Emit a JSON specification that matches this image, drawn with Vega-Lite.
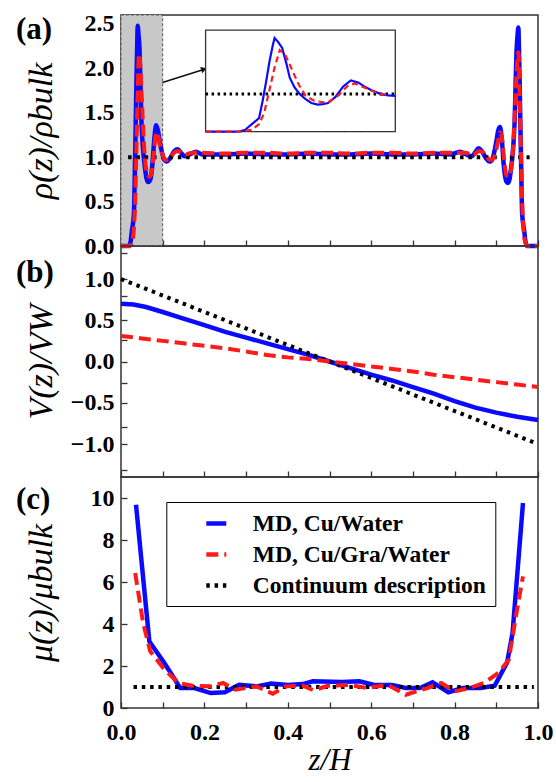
{
  "$schema": "https://vega.github.io/schema/vega-lite/v6.json",
  "background": "white",
  "padding": {"left": 15, "top": 11, "right": 2, "bottom": 0},
  "autosize": {"type": "pad"},
  "spacing": 0,
  "bounds": "flush",
  "datasets": {
    "rho": [
      {"z":0,"v":0,"s":"cu"},{"z":0.019,"v":0,"s":"cu"},{"z":0.023,"v":0.05,"s":"cu"},{"z":0.026,"v":0.17,"s":"cu"},{"z":0.031,"v":0.36,"s":"cu"},{"z":0.033,"v":0.8,"s":"cu"},{"z":0.035,"v":1.3,"s":"cu"},{"z":0.037,"v":1.85,"s":"cu"},{"z":0.039,"v":2.3,"s":"cu"},{"z":0.040,"v":2.48,"s":"cu"},{"z":0.042,"v":2.38,"s":"cu"},{"z":0.0444,"v":2.22,"s":"cu"},{"z":0.0466,"v":1.85,"s":"cu"},{"z":0.0488,"v":1.43,"s":"cu"},{"z":0.0515,"v":1.18,"s":"cu"},{"z":0.0545,"v":1.0,"s":"cu"},{"z":0.058,"v":0.86,"s":"cu"},{"z":0.0613,"v":0.76,"s":"cu"},{"z":0.065,"v":0.72,"s":"cu"},{"z":0.068,"v":0.73,"s":"cu"},{"z":0.071,"v":0.76,"s":"cu"},{"z":0.0753,"v":0.92,"s":"cu"},{"z":0.0798,"v":1.2,"s":"cu"},{"z":0.0842,"v":1.36,"s":"cu"},{"z":0.0885,"v":1.3,"s":"cu"},{"z":0.092,"v":1.2,"s":"cu"},{"z":0.0962,"v":1.1,"s":"cu"},{"z":0.102,"v":0.99,"s":"cu"},{"z":0.106,"v":0.96,"s":"cu"},{"z":0.11,"v":0.95,"s":"cu"},{"z":0.118,"v":0.99,"s":"cu"},{"z":0.128,"v":1.07,"s":"cu"},{"z":0.136,"v":1.09,"s":"cu"},{"z":0.144,"v":1.05,"s":"cu"},{"z":0.152,"v":1.01,"s":"cu"},{"z":0.165,"v":1.03,"s":"cu"},{"z":0.18,"v":1.06,"s":"cu"},{"z":0.195,"v":1.03,"s":"cu"},{"z":0.25,"v":1.03,"s":"cu"},{"z":0.3,"v":1.04,"s":"cu"},{"z":0.35,"v":1.03,"s":"cu"},{"z":0.4,"v":1.03,"s":"cu"},{"z":0.45,"v":1.04,"s":"cu"},{"z":0.5,"v":1.03,"s":"cu"},{"z":0.55,"v":1.03,"s":"cu"},{"z":0.6,"v":1.04,"s":"cu"},{"z":0.65,"v":1.03,"s":"cu"},{"z":0.7,"v":1.03,"s":"cu"},{"z":0.75,"v":1.04,"s":"cu"},{"z":0.79,"v":1.03,"s":"cu"},{"z":0.813,"v":1.06,"s":"cu"},{"z":0.828,"v":1.03,"s":"cu"},{"z":0.841,"v":1.01,"s":"cu"},{"z":0.849,"v":1.05,"s":"cu"},{"z":0.857,"v":1.1,"s":"cu"},{"z":0.865,"v":1.07,"s":"cu"},{"z":0.875,"v":0.99,"s":"cu"},{"z":0.883,"v":0.95,"s":"cu"},{"z":0.887,"v":0.955,"s":"cu"},{"z":0.891,"v":0.98,"s":"cu"},{"z":0.897,"v":1.1,"s":"cu"},{"z":0.901,"v":1.2,"s":"cu"},{"z":0.9045,"v":1.3,"s":"cu"},{"z":0.909,"v":1.34,"s":"cu"},{"z":0.9132,"v":1.2,"s":"cu"},{"z":0.9177,"v":0.92,"s":"cu"},{"z":0.922,"v":0.76,"s":"cu"},{"z":0.925,"v":0.72,"s":"cu"},{"z":0.928,"v":0.71,"s":"cu"},{"z":0.9317,"v":0.75,"s":"cu"},{"z":0.935,"v":0.86,"s":"cu"},{"z":0.9385,"v":1.0,"s":"cu"},{"z":0.9415,"v":1.18,"s":"cu"},{"z":0.9442,"v":1.43,"s":"cu"},{"z":0.9464,"v":1.85,"s":"cu"},{"z":0.9486,"v":2.2,"s":"cu"},{"z":0.951,"v":2.38,"s":"cu"},{"z":0.953,"v":2.46,"s":"cu"},{"z":0.954,"v":2.3,"s":"cu"},{"z":0.956,"v":1.85,"s":"cu"},{"z":0.958,"v":1.3,"s":"cu"},{"z":0.960,"v":0.8,"s":"cu"},{"z":0.962,"v":0.36,"s":"cu"},{"z":0.967,"v":0.17,"s":"cu"},{"z":0.970,"v":0.05,"s":"cu"},{"z":0.974,"v":0,"s":"cu"},{"z":1.0,"v":0,"s":"cu"},
      {"z":0,"v":0,"s":"gra"},{"z":0.02,"v":0,"s":"gra"},{"z":0.027,"v":0.05,"s":"gra"},{"z":0.031,"v":0.2,"s":"gra"},{"z":0.034,"v":0.5,"s":"gra"},{"z":0.037,"v":1.1,"s":"gra"},{"z":0.040,"v":1.7,"s":"gra"},{"z":0.043,"v":2.16,"s":"gra"},{"z":0.046,"v":2.05,"s":"gra"},{"z":0.048,"v":1.86,"s":"gra"},{"z":0.051,"v":1.55,"s":"gra"},{"z":0.054,"v":1.25,"s":"gra"},{"z":0.058,"v":0.95,"s":"gra"},{"z":0.063,"v":0.82,"s":"gra"},{"z":0.068,"v":0.78,"s":"gra"},{"z":0.072,"v":0.8,"s":"gra"},{"z":0.077,"v":0.96,"s":"gra"},{"z":0.082,"v":1.2,"s":"gra"},{"z":0.0865,"v":1.28,"s":"gra"},{"z":0.092,"v":1.17,"s":"gra"},{"z":0.1,"v":1.02,"s":"gra"},{"z":0.106,"v":0.97,"s":"gra"},{"z":0.112,"v":0.97,"s":"gra"},{"z":0.12,"v":1.01,"s":"gra"},{"z":0.13,"v":1.06,"s":"gra"},{"z":0.138,"v":1.07,"s":"gra"},{"z":0.146,"v":1.04,"s":"gra"},{"z":0.155,"v":1.03,"s":"gra"},{"z":0.17,"v":1.05,"s":"gra"},{"z":0.19,"v":1.05,"s":"gra"},{"z":0.25,"v":1.04,"s":"gra"},{"z":0.3,"v":1.05,"s":"gra"},{"z":0.35,"v":1.05,"s":"gra"},{"z":0.4,"v":1.04,"s":"gra"},{"z":0.45,"v":1.05,"s":"gra"},{"z":0.5,"v":1.05,"s":"gra"},{"z":0.55,"v":1.04,"s":"gra"},{"z":0.6,"v":1.05,"s":"gra"},{"z":0.65,"v":1.05,"s":"gra"},{"z":0.7,"v":1.04,"s":"gra"},{"z":0.75,"v":1.05,"s":"gra"},{"z":0.79,"v":1.05,"s":"gra"},{"z":0.806,"v":1.05,"s":"gra"},{"z":0.826,"v":1.05,"s":"gra"},{"z":0.841,"v":1.03,"s":"gra"},{"z":0.85,"v":1.04,"s":"gra"},{"z":0.858,"v":1.07,"s":"gra"},{"z":0.866,"v":1.06,"s":"gra"},{"z":0.876,"v":1.01,"s":"gra"},{"z":0.884,"v":0.97,"s":"gra"},{"z":0.89,"v":0.97,"s":"gra"},{"z":0.896,"v":1.02,"s":"gra"},{"z":0.904,"v":1.17,"s":"gra"},{"z":0.9095,"v":1.28,"s":"gra"},{"z":0.914,"v":1.2,"s":"gra"},{"z":0.919,"v":0.96,"s":"gra"},{"z":0.924,"v":0.8,"s":"gra"},{"z":0.928,"v":0.78,"s":"gra"},{"z":0.933,"v":0.82,"s":"gra"},{"z":0.938,"v":0.95,"s":"gra"},{"z":0.942,"v":1.25,"s":"gra"},{"z":0.945,"v":1.55,"s":"gra"},{"z":0.948,"v":1.86,"s":"gra"},{"z":0.950,"v":2.05,"s":"gra"},{"z":0.953,"v":2.18,"s":"gra"},{"z":0.956,"v":1.7,"s":"gra"},{"z":0.959,"v":1.1,"s":"gra"},{"z":0.962,"v":0.5,"s":"gra"},{"z":0.965,"v":0.2,"s":"gra"},{"z":0.969,"v":0.05,"s":"gra"},{"z":0.976,"v":0,"s":"gra"},{"z":1.0,"v":0,"s":"gra"},
      {"z":0,"v":1,"s":"cont"},{"z":0.017,"v":1,"s":"cont"},{"z":0.11,"v":1,"s":"cont"},{"z":0.98,"v":1,"s":"cont"}
    ],
    "vel": [
      {"z":0,"v":0.70,"s":"cu"},{"z":0.03,"v":0.69,"s":"cu"},{"z":0.06,"v":0.66,"s":"cu"},{"z":0.1,"v":0.60,"s":"cu"},{"z":0.15,"v":0.52,"s":"cu"},{"z":0.2,"v":0.44,"s":"cu"},{"z":0.25,"v":0.36,"s":"cu"},{"z":0.3,"v":0.29,"s":"cu"},{"z":0.35,"v":0.22,"s":"cu"},{"z":0.4,"v":0.15,"s":"cu"},{"z":0.45,"v":0.08,"s":"cu"},{"z":0.5,"v":0.0,"s":"cu"},{"z":0.55,"v":-0.08,"s":"cu"},{"z":0.6,"v":-0.16,"s":"cu"},{"z":0.65,"v":-0.23,"s":"cu"},{"z":0.7,"v":-0.31,"s":"cu"},{"z":0.75,"v":-0.39,"s":"cu"},{"z":0.8,"v":-0.48,"s":"cu"},{"z":0.85,"v":-0.56,"s":"cu"},{"z":0.9,"v":-0.62,"s":"cu"},{"z":0.95,"v":-0.67,"s":"cu"},{"z":1.0,"v":-0.71,"s":"cu"},
      {"z":0,"v":0.31,"s":"gra"},{"z":0.05,"v":0.28,"s":"gra"},{"z":0.1,"v":0.25,"s":"gra"},{"z":0.15,"v":0.22,"s":"gra"},{"z":0.2,"v":0.19,"s":"gra"},{"z":0.25,"v":0.16,"s":"gra"},{"z":0.3,"v":0.12,"s":"gra"},{"z":0.35,"v":0.08,"s":"gra"},{"z":0.4,"v":0.05,"s":"gra"},{"z":0.45,"v":0.03,"s":"gra"},{"z":0.5,"v":0.0,"s":"gra"},{"z":0.55,"v":-0.03,"s":"gra"},{"z":0.6,"v":-0.06,"s":"gra"},{"z":0.65,"v":-0.09,"s":"gra"},{"z":0.7,"v":-0.12,"s":"gra"},{"z":0.75,"v":-0.16,"s":"gra"},{"z":0.8,"v":-0.19,"s":"gra"},{"z":0.85,"v":-0.22,"s":"gra"},{"z":0.9,"v":-0.25,"s":"gra"},{"z":0.95,"v":-0.28,"s":"gra"},{"z":1.0,"v":-0.31,"s":"gra"},
      {"z":0,"v":1.0,"s":"cont"},{"z":0.995,"v":-0.99,"s":"cont"}
    ],
    "mu": [
      {"z":0.036,"v":9.68,"s":"MD, Cu/Water"},{"z":0.068,"v":3.17,"s":"MD, Cu/Water"},{"z":0.104,"v":2.14,"s":"MD, Cu/Water"},{"z":0.142,"v":0.95,"s":"MD, Cu/Water"},{"z":0.176,"v":0.95,"s":"MD, Cu/Water"},{"z":0.215,"v":0.71,"s":"MD, Cu/Water"},{"z":0.249,"v":0.75,"s":"MD, Cu/Water"},{"z":0.283,"v":1.1,"s":"MD, Cu/Water"},{"z":0.325,"v":1.03,"s":"MD, Cu/Water"},{"z":0.36,"v":1.16,"s":"MD, Cu/Water"},{"z":0.40,"v":1.1,"s":"MD, Cu/Water"},{"z":0.436,"v":1.14,"s":"MD, Cu/Water"},{"z":0.46,"v":1.27,"s":"MD, Cu/Water"},{"z":0.53,"v":1.24,"s":"MD, Cu/Water"},{"z":0.572,"v":1.27,"s":"MD, Cu/Water"},{"z":0.607,"v":1.1,"s":"MD, Cu/Water"},{"z":0.65,"v":1.1,"s":"MD, Cu/Water"},{"z":0.683,"v":0.95,"s":"MD, Cu/Water"},{"z":0.717,"v":0.95,"s":"MD, Cu/Water"},{"z":0.747,"v":1.22,"s":"MD, Cu/Water"},{"z":0.785,"v":0.75,"s":"MD, Cu/Water"},{"z":0.82,"v":0.95,"s":"MD, Cu/Water"},{"z":0.862,"v":0.95,"s":"MD, Cu/Water"},{"z":0.896,"v":1.06,"s":"MD, Cu/Water"},{"z":0.926,"v":2.17,"s":"MD, Cu/Water"},{"z":0.939,"v":3.57,"s":"MD, Cu/Water"},{"z":0.964,"v":9.76,"s":"MD, Cu/Water"},
      {"z":0.034,"v":6.43,"s":"MD, Cu/Gra/Water"},{"z":0.053,"v":4.05,"s":"MD, Cu/Gra/Water"},{"z":0.07,"v":2.7,"s":"MD, Cu/Gra/Water"},{"z":0.104,"v":1.83,"s":"MD, Cu/Gra/Water"},{"z":0.138,"v":1.19,"s":"MD, Cu/Gra/Water"},{"z":0.172,"v":1.06,"s":"MD, Cu/Gra/Water"},{"z":0.215,"v":1.03,"s":"MD, Cu/Gra/Water"},{"z":0.245,"v":1.19,"s":"MD, Cu/Gra/Water"},{"z":0.274,"v":0.87,"s":"MD, Cu/Gra/Water"},{"z":0.325,"v":1.03,"s":"MD, Cu/Gra/Water"},{"z":0.364,"v":0.68,"s":"MD, Cu/Gra/Water"},{"z":0.394,"v":1.03,"s":"MD, Cu/Gra/Water"},{"z":0.436,"v":1.06,"s":"MD, Cu/Gra/Water"},{"z":0.462,"v":0.84,"s":"MD, Cu/Gra/Water"},{"z":0.496,"v":1.06,"s":"MD, Cu/Gra/Water"},{"z":0.547,"v":1.1,"s":"MD, Cu/Gra/Water"},{"z":0.59,"v":0.95,"s":"MD, Cu/Gra/Water"},{"z":0.64,"v":1.1,"s":"MD, Cu/Gra/Water"},{"z":0.683,"v":0.63,"s":"MD, Cu/Gra/Water"},{"z":0.734,"v":0.95,"s":"MD, Cu/Gra/Water"},{"z":0.768,"v":1.19,"s":"MD, Cu/Gra/Water"},{"z":0.80,"v":0.79,"s":"MD, Cu/Gra/Water"},{"z":0.836,"v":0.95,"s":"MD, Cu/Gra/Water"},{"z":0.87,"v":1.19,"s":"MD, Cu/Gra/Water"},{"z":0.905,"v":1.67,"s":"MD, Cu/Gra/Water"},{"z":0.93,"v":2.3,"s":"MD, Cu/Gra/Water"},{"z":0.947,"v":4.37,"s":"MD, Cu/Gra/Water"},{"z":0.964,"v":6.27,"s":"MD, Cu/Gra/Water"},
      {"z":0.03,"v":1,"s":"Continuum description"},{"z":0.99,"v":1,"s":"Continuum description"}
    ]
  },
  "vconcat": [
    {
      "width": 417, "height": 231,
      "layer": [
        {
          "layer": [
            {
              "data": {"values": [{"z": 0, "z2": 0.1, "v": 0, "v2": 2.6}]},
              "mark": {"type": "rect", "fill": "#c8c8c8", "stroke": "#555", "strokeDash": [3, 2], "strokeWidth": 1},
              "encoding": {
                "x": {"field": "z", "type": "quantitative", "scale": {"domain": [0, 1]}, "axis": {"values": [0,0.1,0.2,0.3,0.4,0.5,0.6,0.7,0.8,0.9,1], "labels": false, "title": null}},
                "x2": {"field": "z2"},
                "y": {"field": "v", "type": "quantitative", "scale": {"domain": [0, 2.6]}, "axis": {"values": [0,0.25,0.5,0.75,1,1.25,1.5,1.75,2,2.25,2.5], "labelExpr": "round(datum.value*4) % 2 == 0 ? format(datum.value, '.1f') : ''", "title": "ρ(z)/ρbulk"}},
                "y2": {"field": "v2"}
              }
            },
            {
              "data": {"name": "rho"},
              "transform": [{"filter": "datum.s == 'cu'"}],
              "mark": {"type": "line", "color": "#0a0aff", "strokeWidth": 4.5, "interpolate": "monotone"},
              "encoding": {"x": {"field": "z", "type": "quantitative"}, "y": {"field": "v", "type": "quantitative"}}
            },
            {
              "data": {"name": "rho"},
              "transform": [{"filter": "datum.s == 'cont' && datum.z > 0.001"}],
              "mark": {"type": "line", "color": "#000", "strokeWidth": 4, "strokeDash": [3.5, 4.8]},
              "encoding": {"x": {"field": "z", "type": "quantitative"}, "y": {"field": "v", "type": "quantitative"}}
            },
            {
              "data": {"name": "rho"},
              "transform": [{"filter": "datum.s == 'gra'"}],
              "mark": {"type": "line", "color": "#ff1a1a", "strokeWidth": 4, "strokeDash": [12, 5], "interpolate": "monotone"},
              "encoding": {"x": {"field": "z", "type": "quantitative"}, "y": {"field": "v", "type": "quantitative"}}
            },
            {
              "data": {"values": [{"z": 0.0995, "v": 1.84}, {"z": 0.2, "v": 1.99}]},
              "mark": {"type": "line", "color": "#111", "strokeWidth": 1.5},
              "encoding": {"x": {"field": "z", "type": "quantitative"}, "y": {"field": "v", "type": "quantitative"}}
            },
            {
              "data": {"values": [{"z": 0.199, "v": 1.99}]},
              "mark": {"type": "point", "shape": "triangle-right", "filled": true, "color": "#111", "size": 45, "angle": -18, "opacity": 1},
              "encoding": {"x": {"field": "z", "type": "quantitative"}, "y": {"field": "v", "type": "quantitative"}}
            },
            {
              "data": {"values": [{"z": -0.2518, "v": 2.33, "t": "(a)"}]},
              "mark": {"type": "text", "align": "left", "baseline": "alphabetic", "font": "Liberation Serif, Times New Roman, serif", "fontSize": 31, "fontWeight": "bold", "color": "#000", "clip": false},
              "encoding": {"x": {"field": "z", "type": "quantitative"}, "y": {"field": "v", "type": "quantitative"}, "text": {"field": "t"}}
            }
          ]
        },
        {
          "layer": [
            {
              "data": {"values": [{"z": 0, "z2": 0.11, "v": 0, "v2": 2.69}]},
              "mark": {"type": "rect", "fill": "white", "stroke": "#333", "strokeWidth": 1.3},
              "encoding": {
                "x": {"field": "z", "type": "quantitative", "scale": {"domain": [0, 0.11], "range": [84.6, 274.3]}, "axis": {"orient": "bottom", "offset": -114.3, "values": [0.01,0.02,0.03,0.04,0.05,0.06,0.07,0.08,0.09,0.1], "labels": false, "title": null, "tickSize": -4}},
                "x2": {"field": "z2"},
                "y": {"field": "v", "type": "quantitative", "scale": {"domain": [0, 2.69], "range": [116.7, 11]}, "axis": {"orient": "left", "offset": -84.6, "values": [0.5,1,1.5,2,2.5], "labels": false, "title": null, "tickSize": -4}},
                "y2": {"field": "v2"}
              }
            },
            {
              "data": {"name": "rho"},
              "transform": [{"filter": "datum.s == 'cont' && datum.z <= 0.1101"}],
              "mark": {"type": "line", "color": "#000", "strokeWidth": 3, "strokeDash": [2.5, 3.5]},
              "encoding": {"x": {"field": "z", "type": "quantitative"}, "y": {"field": "v", "type": "quantitative"}}
            },
            {
              "data": {"name": "rho"},
              "transform": [{"filter": "datum.s == 'cu' && datum.z <= 0.1101"}],
              "mark": {"type": "line", "color": "#0a0aff", "strokeWidth": 2.2},
              "encoding": {"x": {"field": "z", "type": "quantitative"}, "y": {"field": "v", "type": "quantitative"}}
            },
            {
              "data": {"name": "rho"},
              "transform": [{"filter": "datum.s == 'gra' && datum.z <= 0.1101"}],
              "mark": {"type": "line", "color": "#ff1a1a", "strokeWidth": 2.2, "strokeDash": [6, 4]},
              "encoding": {"x": {"field": "z", "type": "quantitative"}, "y": {"field": "v", "type": "quantitative"}}
            }
          ]
        }
      ],
      "resolve": {"scale": {"x": "independent", "y": "independent"}, "axis": {"x": "independent", "y": "independent"}}
    },
    {
      "width": 417, "height": 231,
      "layer": [
        {
          "layer": [
            {
              "data": {"name": "vel"},
              "transform": [{"filter": "datum.s == 'cu'"}],
              "mark": {"type": "line", "color": "#0a0aff", "strokeWidth": 4.5},
              "encoding": {
                "x": {"field": "z", "type": "quantitative", "scale": {"domain": [0, 1]}, "axis": {"values": [0,0.1,0.2,0.3,0.4,0.5,0.6,0.7,0.8,0.9,1], "labels": false, "title": null}},
                "y": {"field": "v", "type": "quantitative", "scale": {"domain": [-1.33, 1.33]}, "axis": {"values": [-1,-0.5,0,0.5,1], "format": ".1f", "title": "V(z)/VW"}}
              }
            },
            {
              "data": {"name": "vel"},
              "transform": [{"filter": "datum.s == 'cont'"}],
              "mark": {"type": "line", "color": "#000", "strokeWidth": 4, "strokeDash": [3.5, 4.8]},
              "encoding": {"x": {"field": "z", "type": "quantitative"}, "y": {"field": "v", "type": "quantitative"}}
            },
            {
              "data": {"name": "vel"},
              "transform": [{"filter": "datum.s == 'gra'"}],
              "mark": {"type": "line", "color": "#ff1a1a", "strokeWidth": 4, "strokeDash": [12, 6]},
              "encoding": {"x": {"field": "z", "type": "quantitative"}, "y": {"field": "v", "type": "quantitative"}}
            },
            {
              "data": {"values": [{"z": -0.2518, "v": 0.962, "t": "(b)"}]},
              "mark": {"type": "text", "align": "left", "baseline": "alphabetic", "font": "Liberation Serif, Times New Roman, serif", "fontSize": 31, "fontWeight": "bold", "color": "#000", "clip": false},
              "encoding": {"x": {"field": "z", "type": "quantitative"}, "y": {"field": "v", "type": "quantitative"}, "text": {"field": "t"}}
            }
          ]
        },
        {
          "data": {"values": [{"w": -1.33}, {"w": 1.33}]},
          "mark": {"type": "point", "opacity": 0},
          "encoding": {
            "y": {"field": "w", "type": "quantitative", "scale": {"domain": [-1.33, 1.33]}, "axis": {"orient": "left", "values": [-1.25,-0.75,-0.25,0.25,0.75,1.25], "labels": false, "title": null}}
          }
        }
      ],
      "resolve": {"scale": {"y": "independent"}, "axis": {"y": "independent"}}
    },
    {
      "width": 417, "height": 231,
      "layer": [
        {
          "data": {"name": "mu"},
          "transform": [{"filter": "datum.s == 'MD, Cu/Water'"}],
          "mark": {"type": "line", "strokeWidth": 4.5},
          "encoding": {
            "x": {"field": "z", "type": "quantitative", "scale": {"domain": [0, 1]}, "axis": {"values": [0,0.1,0.2,0.3,0.4,0.5,0.6,0.7,0.8,0.9,1], "labelExpr": "round(datum.value*10) % 2 == 0 ? format(datum.value, '.1f') : ''", "title": "z/H", "titleFontSize": 31, "titlePadding": 1}},
            "y": {"field": "v", "type": "quantitative", "scale": {"domain": [0, 11]}, "axis": {"values": [0,1,2,3,4,5,6,7,8,9,10,11], "labelExpr": "datum.value % 2 == 0 ? '' + datum.value : ''", "title": "μ(z)/μbulk"}},
            "color": {"field": "s", "type": "nominal", "scale": {"domain": ["MD, Cu/Water", "MD, Cu/Gra/Water", "Continuum description"], "range": ["#0a0aff", "#ff1a1a", "#000000"]}, "legend": {"orient": "none", "legendX": 45.3, "legendY": 25, "direction": "vertical", "title": null}},
            "strokeDash": {"field": "s", "type": "nominal", "scale": {"domain": ["MD, Cu/Water", "MD, Cu/Gra/Water", "Continuum description"], "range": [[1000, 0], [12, 6], [3.5, 4.8]]}, "legend": {"orient": "none", "legendX": 45.3, "legendY": 25, "direction": "vertical", "title": null}}
          }
        },
        {
          "data": {"name": "mu"},
          "transform": [{"filter": "datum.s == 'Continuum description'"}],
          "mark": {"type": "line", "strokeWidth": 4},
          "encoding": {"x": {"field": "z", "type": "quantitative"}, "y": {"field": "v", "type": "quantitative"}, "color": {"field": "s", "type": "nominal"}, "strokeDash": {"field": "s", "type": "nominal"}}
        },
        {
          "data": {"name": "mu"},
          "transform": [{"filter": "datum.s == 'MD, Cu/Gra/Water'"}],
          "mark": {"type": "line", "strokeWidth": 4},
          "encoding": {"x": {"field": "z", "type": "quantitative"}, "y": {"field": "v", "type": "quantitative"}, "color": {"field": "s", "type": "nominal"}, "strokeDash": {"field": "s", "type": "nominal"}}
        },
        {
          "data": {"values": [{"z": -0.2518, "v": 9.476, "t": "(c)"}]},
          "mark": {"type": "text", "align": "left", "baseline": "alphabetic", "font": "Liberation Serif, Times New Roman, serif", "fontSize": 31, "fontWeight": "bold", "color": "#000", "clip": false},
          "encoding": {"x": {"field": "z", "type": "quantitative"}, "y": {"field": "v", "type": "quantitative"}, "text": {"field": "t"}}
        }
      ]
    }
  ],
  "resolve": {"scale": {"x": "independent", "y": "independent", "color": "independent", "strokeDash": "independent"}},
  "config": {
    "font": "Liberation Serif, Times New Roman, serif",
    "view": {"stroke": "#333", "strokeWidth": 1.5},
    "axis": {
      "labelFont": "Liberation Serif, Times New Roman, serif", "labelFontWeight": "bold", "labelFontSize": 24, "labelColor": "#000",
      "labelOverlap": false, "labelFlush": false, "labelPadding": 13,
      "tickSize": -6, "tickColor": "#333", "tickWidth": 1.3, "domain": false, "grid": false,
      "titleFont": "Liberation Serif, Times New Roman, serif", "titleFontSize": 34, "titleFontWeight": "normal", "titleFontStyle": "italic", "titleColor": "#000"
    },
    "axisX": {"labelPadding": 18},
    "axisY": {"titleX": -70, "titleAngle": -90, "titleBaseline": "alphabetic"},
    "legend": {
      "symbolType": "stroke", "symbolSize": 400, "symbolStrokeWidth": 4.5,
      "labelFont": "Liberation Serif, Times New Roman, serif", "labelFontSize": 23.5, "labelFontWeight": "bold", "labelColor": "#000", "labelLimit": 500,
      "padding": 9, "symbolOffset": 28.5, "labelOffset": 24, "rowPadding": 7,
      "strokeColor": "#000", "fillColor": "#fff"
    }
  }
}
